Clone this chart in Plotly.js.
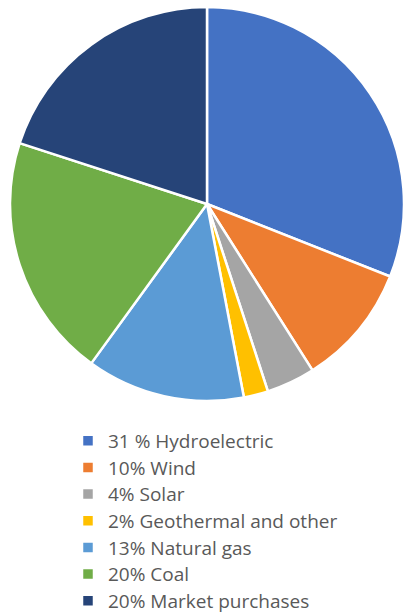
<!DOCTYPE html>
<html>
<head>
<meta charset="utf-8">
<script src="https://cdn.plot.ly/plotly-3.0.1.min.js"></script>
<style>html,body{margin:0;padding:0;overflow:hidden;background:#fff;}#chart{width:404px;height:613px;}</style>
</head>
<body>
<div id="chart"></div>
<script>
const labels = ["31 % Hydroelectric", "10% Wind", "4% Solar", "2% Geothermal and other", "13% Natural gas", "20% Coal", "20% Market purchases"];
const values = [31, 10, 4, 2, 13, 20, 20];
const colors = ["#4472C4", "#ED7D31", "#A5A5A5", "#FFC000", "#5B9BD5", "#70AD47", "#264478"];

const displayLabels = labels.map(function (s) { return '<span style="font-size:19px">' + s + '</span>'; });

const trace = {
  type: "pie",
  labels: displayLabels,
  values: values,
  sort: false,
  direction: "clockwise",
  rotation: 0,
  textinfo: "none",
  hoverinfo: "label+percent",
  marker: { colors: colors, line: { color: "#ffffff", width: 2.5 } },
  domain: { x: [0, 1], y: [1 - 394 / 606, 1] }
};

const layout = {
  width: 404,
  height: 613,
  margin: { l: 10, r: 0, t: 7, b: 0, autoexpand: false },
  paper_bgcolor: "#ffffff",
  showlegend: true,
  legend: {
    x: (68 - 10) / 394,
    xanchor: "left",
    y: 0.3144,
    yanchor: "top",
    orientation: "v",
    font: { family: "Open Sans, sans-serif", size: 18.2, color: "#595959" },
    bgcolor: "rgba(0,0,0,0)"
  }
};

Plotly.newPlot("chart", [trace], layout, { staticPlot: true, displayModeBar: false });
</script>
</body>
</html>
